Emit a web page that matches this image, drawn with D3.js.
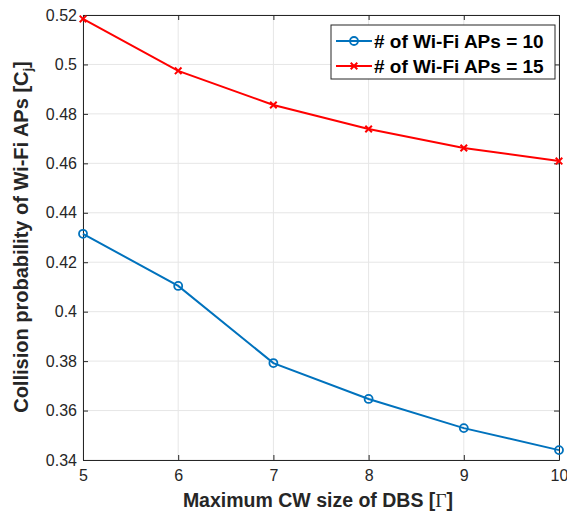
<!DOCTYPE html>
<html>
<head>
<meta charset="utf-8">
<script src="https://cdn.jsdelivr.net/npm/d3@7"></script>
<style>
  body { margin: 0; background: #fff; }
  text { font-family: "Liberation Sans", Arial, sans-serif; }
</style>
</head>
<body>
<svg id="chart" width="567" height="514"></svg>
<script>
const cwSizes = [5, 6, 7, 8, 9, 10];
const aps10 = [0.4315, 0.4104, 0.3792, 0.3647, 0.3529, 0.3440];
const aps15 = [0.5184, 0.4974, 0.4836, 0.4739, 0.4662, 0.4609];
const yTicks = [0.34, 0.36, 0.38, 0.4, 0.42, 0.44, 0.46, 0.48, 0.5, 0.52];
const seriesNames = ['# of Wi-Fi APs = 10', '# of Wi-Fi APs = 15'];

const svg = d3.select('#chart');
const m = { left: 83, top: 15, right: 559, bottom: 460 };

const x = d3.scaleLinear().domain([5, 10]).range([m.left, m.right]);
const y = d3.scaleLinear().domain([0.34, 0.52]).range([m.bottom, m.top]);

// grid
const grid = svg.append('g').attr('stroke', '#e6e6e6').attr('stroke-width', 1);
cwSizes.forEach(v => grid.append('line')
  .attr('x1', x(v)).attr('x2', x(v)).attr('y1', m.top).attr('y2', m.bottom));
yTicks.forEach(v => grid.append('line')
  .attr('x1', m.left).attr('x2', m.right).attr('y1', y(v)).attr('y2', y(v)));

// axes
const xAxis = svg.append('g')
  .attr('transform', `translate(0,${m.bottom})`)
  .call(d3.axisBottom(x).tickValues(cwSizes).tickFormat(d3.format('d'))
    .tickSizeInner(-5).tickSizeOuter(0).tickPadding(10));
const yAxis = svg.append('g')
  .attr('transform', `translate(${m.left},0)`)
  .call(d3.axisLeft(y).tickValues(yTicks).tickFormat(d3.format(''))
    .tickSizeInner(-5).tickSizeOuter(0).tickPadding(6));
svg.append('g')
  .attr('transform', `translate(0,${m.top})`)
  .call(d3.axisTop(x).tickValues(cwSizes).tickSizeInner(-5).tickSizeOuter(0).tickFormat(''));
svg.append('g')
  .attr('transform', `translate(${m.right},0)`)
  .call(d3.axisRight(y).tickValues(yTicks).tickSizeInner(-5).tickSizeOuter(0).tickFormat(''));

svg.selectAll('.domain').attr('stroke', '#262626');
svg.selectAll('.tick line').attr('stroke', '#262626');
[xAxis, yAxis].forEach(a => a.selectAll('text')
  .style('font-size', '16px').attr('fill', '#262626')
  .style('font-family', '"Liberation Sans", Arial, sans-serif'));

// lines
const line = d3.line().x((d, i) => x(cwSizes[i])).y(d => y(d));

svg.append('path').datum(aps10)
  .attr('fill', 'none').attr('stroke', '#0072bd').attr('stroke-width', 2)
  .attr('d', line);
svg.append('g').selectAll('circle').data(aps10).join('circle')
  .attr('cx', (d, i) => x(cwSizes[i])).attr('cy', d => y(d)).attr('r', 4)
  .attr('fill', 'none').attr('stroke', '#0072bd').attr('stroke-width', 1.8);

svg.append('path').datum(aps15)
  .attr('fill', 'none').attr('stroke', '#ff0000').attr('stroke-width', 2)
  .attr('d', line);
const cross = d3.symbol().type(d3.symbolX).size(30);
svg.append('g').selectAll('path').data(aps15).join('path')
  .attr('transform', (d, i) => `translate(${x(cwSizes[i])},${y(d)})`)
  .attr('d', cross).attr('fill', 'none').attr('stroke', '#ff0000').attr('stroke-width', 2);

// legend
const legend = svg.append('g').attr('transform', 'translate(331,25)');
legend.append('rect')
  .attr('width', 224).attr('height', 54)
  .attr('fill', '#fff').attr('stroke', '#262626').attr('stroke-width', 1);
const colors = ['#0072bd', '#ff0000'];
seriesNames.forEach((name, i) => {
  const g = legend.append('g').attr('transform', `translate(0,${16 + i * 25})`);
  g.append('line').attr('x1', 5).attr('x2', 41).attr('y1', 0).attr('y2', 0)
    .attr('stroke', colors[i]).attr('stroke-width', 2);
  if (i === 0) {
    g.append('circle').attr('cx', 23).attr('cy', 0).attr('r', 4)
      .attr('fill', 'none').attr('stroke', colors[i]).attr('stroke-width', 1.8);
  } else {
    g.append('path').attr('transform', 'translate(23,0)').attr('d', cross)
      .attr('fill', 'none').attr('stroke', colors[i]).attr('stroke-width', 2);
  }
  g.append('text').attr('x', 43).attr('y', 7)
    .style('font-size', '19px').style('font-weight', 'bold').attr('fill', '#000')
    .text(name);
});

// axis labels
svg.append('text')
  .attr('x', 318).attr('y', 507)
  .attr('text-anchor', 'middle')
  .style('font-size', '19.5px').style('font-weight', 'bold').attr('fill', '#262626')
  .html('Maximum CW size of DBS [<tspan style="font-family: \'Liberation Serif\', serif; font-weight: normal">Γ</tspan>]');

const yl = svg.append('text')
  .attr('transform', 'translate(28,237) rotate(-90)')
  .attr('text-anchor', 'middle')
  .style('font-size', '20px').style('font-weight', 'bold').attr('fill', '#262626');
yl.append('tspan').text('Collision probability of Wi-Fi APs [C');
yl.append('tspan').attr('dy', 4).style('font-size', '13px').text('j');
yl.append('tspan').attr('dy', -4).text(']');
</script>
</body>
</html>
